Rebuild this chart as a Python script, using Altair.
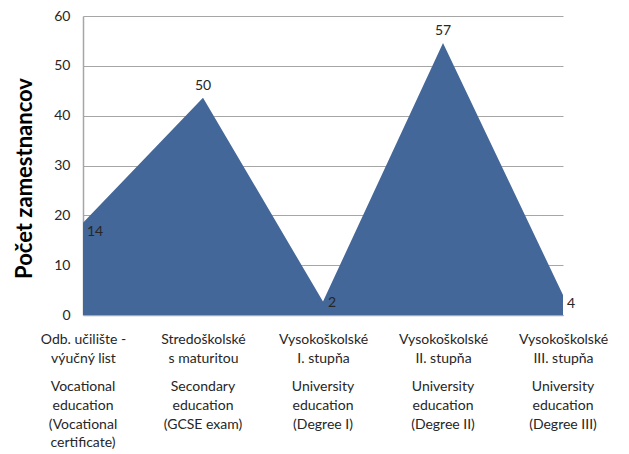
import altair as alt
import pandas as pd

FONT = "Lato"

categories = [
    "Odb. učilište -\nvýučný list",
    "Stredoškolské\ns maturitou",
    "Vysokoškolské\nI. stupňa",
    "Vysokoškolské\nII. stupňa",
    "Vysokoškolské\nIII. stupňa",
]
english = [
    "Vocational\neducation\n(Vocational\ncertificate)",
    "Secondary\neducation\n(GCSE exam)",
    "University\neducation\n(Degree I)",
    "University\neducation\n(Degree II)",
    "University\neducation\n(Degree III)",
]
heights = [18.5, 43.6, 2.7, 54.6, 4.0]
labels = [14, 50, 2, 57, 4]

df = pd.DataFrame({"cat": categories, "en": english, "h": heights,
                   "lab": labels, "i": list(range(len(categories)))})

TXT = "#262626"
GRID = "#a6a6a6"

x = alt.X("cat:N", sort=categories,
          scale=alt.Scale(type="point", padding=0),
          axis=alt.Axis(title=None, labelExpr="split(datum.label, '\\n')",
                        labelAngle=0, labelFont=FONT, labelFontSize=14,
                        labelColor=TXT, labelLineHeight=19, labelPadding=17,
                        ticks=False, domainColor=GRID, domainWidth=1.5,
                        grid=False))
y = alt.Y("h:Q", scale=alt.Scale(domain=[0, 60]),
          axis=alt.Axis(values=[0, 10, 20, 30, 40, 50, 60],
                        title="Počet zamestnancov", titleFont=FONT,
                        titleFontSize=22, titleFontWeight="bold",
                        titleColor="#000000", titleY=162, titleX=-47,
                        titleBaseline="bottom",
                        labelFont=FONT, labelFontSize=14, labelColor=TXT,
                        labelPadding=13, ticks=False, tickSize=0,
                        grid=True, gridColor=GRID, gridWidth=1.2,
                        domainColor=GRID, domainWidth=1.5))

base = alt.Chart(df)
area = base.mark_area(color="#44679a").encode(x=x, y=y)

above = base.transform_filter("datum.i == 1 || datum.i == 3").mark_text(
    font=FONT, fontSize=14, color=TXT, align="center", baseline="middle", dy=-12
).encode(x=x, y=y, text="lab:N")
right_low = base.transform_filter("datum.i == 0 || datum.i == 4").mark_text(
    font=FONT, fontSize=14, color=TXT, align="left", baseline="middle", dx=4, dy=9
).encode(x=x, y=y, text="lab:N")
right_mid = base.transform_filter("datum.i == 2").mark_text(
    font=FONT, fontSize=14, color=TXT, align="left", baseline="middle", dx=5, dy=1
).encode(x=x, y=y, text="lab:N")

eng = base.mark_text(
    font=FONT, fontSize=14, color=TXT, align="center", baseline="top",
    lineBreak="\n", lineHeight=18.8
).encode(x=x, y=alt.value(364), text="en:N")

chart = alt.layer(area, above, right_low, right_mid, eng).properties(
    width=480, height=299,
    autosize=alt.AutoSizeParams(type="none"),
    padding={"left": 75, "top": 8, "right": 50, "bottom": 137},
    background="white",
).configure_view(stroke=None)

chart.save("out.html", embed_options={"renderer": "svg", "actions": False})
